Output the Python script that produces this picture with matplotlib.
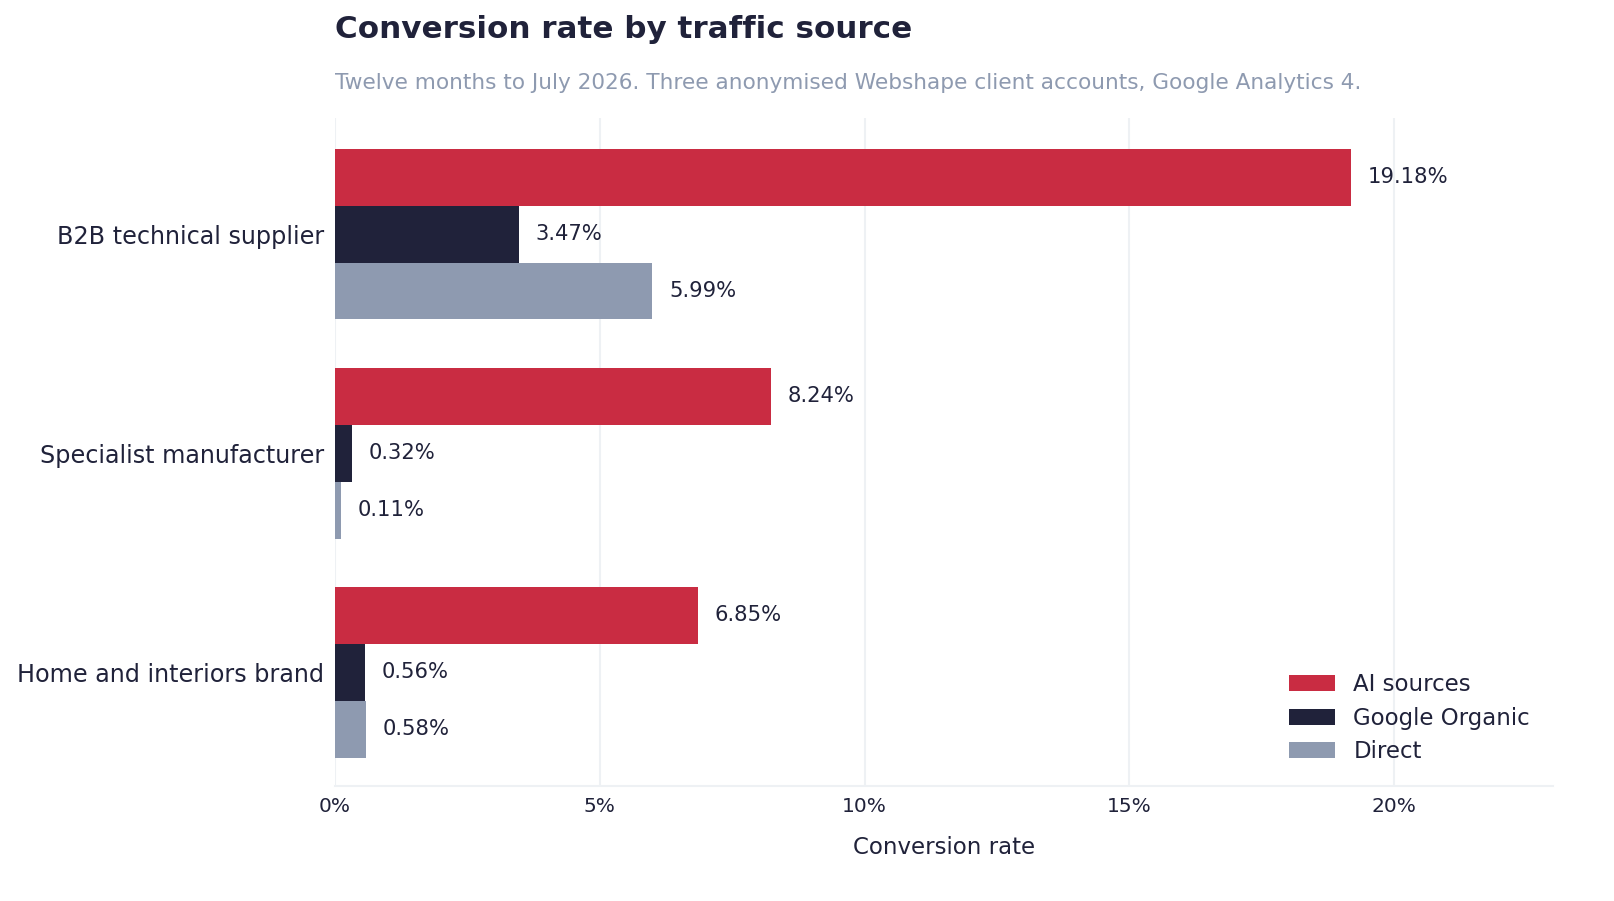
import matplotlib.pyplot as plt
import numpy as np

# data
categories = ["B2B technical supplier", "Specialist manufacturer", "Home and interiors brand"]
series = ["AI sources", "Google Organic", "Direct"]
ai_sources = [19.18, 8.24, 6.85]
google_organic = [3.47, 0.32, 0.56]
direct = [5.99, 0.11, 0.58]
xticks = [0, 5, 10, 15, 20]

colors = ["#C92C42", "#20223A", "#8E9AB0"]
TEXT = "#20223A"
MUTED = "#8E9AB0"
GRID = "#EEF1F4"

fig = plt.figure(figsize=(16.14, 9.01), dpi=100)
ax = fig.add_axes([335 / 1614, 1 - 786 / 901, (1553 - 335) / 1614, (786 - 118) / 901])

y = np.arange(len(categories))
h = 0.26
for i, (name, vals) in enumerate(zip(series, [ai_sources, google_organic, direct])):
    pos = y + (i - 1) * h
    ax.barh(pos, vals, height=h, color=colors[i], label=name, zorder=3)
    for p, v in zip(pos, vals):
        ax.annotate(f"{v:.2f}%", (v, p), xytext=(12, 0), textcoords="offset points",
                    va="center", ha="left", fontsize=15.2, color=TEXT)

ax.set_xlim(0, 23)
ax.set_ylim(2.52, -0.53)
ax.set_yticks(y)
ax.set_yticklabels(categories, fontsize=17.2, color=TEXT)
ax.set_xticks(xticks)
ax.set_xticklabels([f"{t}%" for t in xticks], fontsize=14.5, color=TEXT)
ax.tick_params(length=0, pad=8)
ax.grid(axis="x", color=GRID, linewidth=1.5, zorder=0)
for s in ["top", "right", "left"]:
    ax.spines[s].set_visible(False)
ax.spines["bottom"].set_color(GRID)
ax.spines["bottom"].set_linewidth(1.5)
ax.set_xlabel("Conversion rate", fontsize=16.5, color=TEXT, labelpad=14)

leg = ax.legend(loc="lower right", frameon=False, fontsize=16.5, handlelength=2.0,
                handleheight=0.7, labelspacing=0.45, borderaxespad=0.6)
for t in leg.get_texts():
    t.set_color(TEXT)

fig.text(335 / 1614, 1 - 30 / 901, "Conversion rate by traffic source", fontsize=22.3,
         fontweight="bold", color=TEXT, va="center", ha="left")
fig.text(335 / 1614, 1 - 83 / 901,
         "Twelve months to July 2026. Three anonymised Webshape client accounts, Google Analytics 4.",
         fontsize=15.6, color=MUTED, va="center", ha="left")

fig.savefig("out.png", dpi=100)
